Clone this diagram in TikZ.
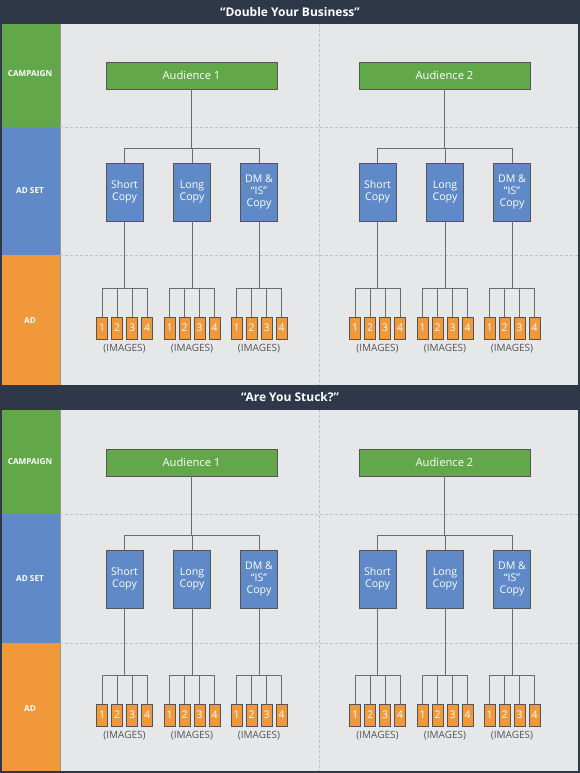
\documentclass[tikz,border=0pt]{standalone}
\usepackage{fontspec}
\setmainfont{Open Sans}
\definecolor{navy}{HTML}{2E3849}
\definecolor{cgreen}{HTML}{62A84B}
\definecolor{cblue}{HTML}{5F8AC7}
\definecolor{corange}{HTML}{F0983A}
\definecolor{panel}{HTML}{E6E7E8}
\definecolor{dashc}{HTML}{BFC1C3}
\definecolor{linegray}{HTML}{6B6B6B}
\definecolor{boxline}{HTML}{555555}
\definecolor{txtgray}{HTML}{555555}
\begin{document}
\begin{tikzpicture}[x=1pt,y=-1pt,
  aud/.style={draw=boxline,fill=cgreen,minimum width=171pt,minimum height=27pt,inner sep=0pt,text=white,font=\fontsize{11.2}{13}\selectfont,line width=0.8pt},
  setbox/.style={draw=boxline,fill=cblue,minimum width=37pt,minimum height=58pt,inner sep=0pt,text=white,align=center,font=\fontsize{10.6}{11.8}\selectfont,line width=0.8pt},
  imgbox/.style={draw=boxline,fill=corange,minimum width=11pt,minimum height=22pt,inner sep=0pt,text=white,font=\fontsize{10.5}{11}\selectfont,line width=0.8pt},
  imgtxt/.style={text=txtgray,font=\fontsize{10}{11}\selectfont,inner sep=0pt},
  conn/.style={draw=linegray,line width=1pt},
  sidelbl/.style={text=white,font=\bfseries\fontsize{8.2}{10}\selectfont,inner sep=0pt},
  titlelbl/.style={text=white,font=\bfseries\fontsize{12}{14}\selectfont,inner sep=0pt},
  dashln/.style={draw=dashc,line width=0.6pt,dash pattern=on 3pt off 2pt}]
\useasboundingbox (0,0) rectangle (580,773);
\fill[navy] (0,0) rectangle (580,773);
% panels
\fill[panel] (60,24) rectangle (578,385);
\fill[panel] (60,410) rectangle (578,771);
% side bands section 1
\fill[cgreen] (2,24) rectangle (60,127);
\fill[cblue] (2,127) rectangle (60,255);
\fill[corange] (2,255) rectangle (60,385);
% side bands section 2
\fill[cgreen] (2,410) rectangle (60,514);
\fill[cblue] (2,514) rectangle (60,643);
\fill[corange] (2,643) rectangle (60,771);
\draw[draw=gray!80,line width=0.6pt] (60,24) -- (60,385);
\draw[draw=gray!80,line width=0.6pt] (60,410) -- (60,771);
% dashed grid
\draw[dashln] (60,127) -- (578,127);
\draw[dashln] (60,255) -- (578,255);
\draw[dashln] (319,24) -- (319,385);
\draw[dashln] (60,514) -- (578,514);
\draw[dashln] (60,643) -- (578,643);
\draw[dashln] (319,410) -- (319,771);
% titles
\node[titlelbl] (t1) at (290,12) {“Double Your Business”};
\node[titlelbl] (t2) at (290,397.5) {“Are You Stuck?”};
% side labels
\node[sidelbl] (c1) at (30,74) {CAMPAIGN};
\node[sidelbl] (s1) at (30,191) {AD SET};
\node[sidelbl] (a1) at (30,321) {AD};
\node[sidelbl] (c2) at (30,462) {CAMPAIGN};
\node[sidelbl] (s2) at (30,579) {AD SET};
\node[sidelbl] (a2) at (30,709) {AD};
% trees
\foreach \s/\o in {1/0,2/387}{
 \foreach \a/\ax in {1/191.5,2/444.5}{
  \node[aud] (aud\s\a) at (\ax,75.5+\o) {Audience \a};
  \coordinate (bar\s\a) at (\ax,148+\o);
  \draw[conn] (aud\s\a.south) -- (bar\s\a);
  \foreach \b/\dx/\txt in {1/-67/{Short\\Copy},2/0.5/{Long\\Copy},3/67.5/{DM \&\\“IS”\\Copy}}{
    \node[setbox] (set\s\a\b) at (\ax+\dx,192+\o) {\txt};
    \draw[conn] (bar\s\a) -| (set\s\a\b.north);
    \coordinate (sb\s\a\b) at (\ax+\dx,288+\o);
    \draw[conn] (set\s\a\b.south) -- (sb\s\a\b);
    \foreach \c/\cx in {1/-22.5,2/-7.5,3/7.5,4/22.5}{
      \node[imgbox] (img\s\a\b\c) at (\ax+\dx+\cx,328+\o) {\c};
      \draw[conn] (sb\s\a\b) -| (img\s\a\b\c.north);
    }
    \node[imgtxt] (it\s\a\b) at (\ax+\dx,349+\o) {(IMAGES)};
  }
 }
}
\end{tikzpicture}
\end{document}
